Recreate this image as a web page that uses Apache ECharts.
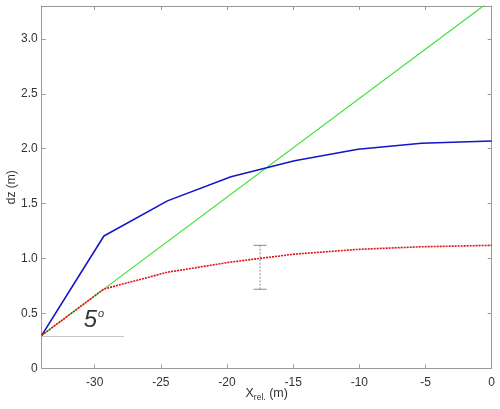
<!DOCTYPE html>
<html>
<head>
<meta charset="utf-8">
<script src="https://cdn.jsdelivr.net/npm/echarts@6/dist/echarts.min.js"></script>
<style>html,body{margin:0;padding:0;background:#fff}#c{width:500px;height:409px}</style>
</head>
<body>
<div id="c"></div>
<script>
// ---- data ----
const xPoints = [-34, -29.3, -24.5, -19.7, -14.9, -10.1, -5.3, 0];
const blueValues = [0.30, 1.205, 1.525, 1.745, 1.89, 1.995, 2.05, 2.07];
const redValues = [0.30, 0.722, 0.875, 0.968, 1.04, 1.083, 1.107, 1.12];
const greenX = [-34, 0];
const greenValues = [0.30, 3.357];
const refLineX = [-34, -27.8];
const refLineY = [0.29, 0.29];
const errX = [-17.5];
const errLow = [0.72];
const errHigh = [1.12];
const angleLabelPos = [-30.05, 0.435];
const xTickValues = [-30, -25, -20, -15, -10, -5, 0];
const yTickLabels = ['0', '0.5', '1.0', '1.5', '2.0', '2.5', '3.0'];

const pairs = (xs, ys) => xs.map((x, i) => [x, ys[i]]);

const axisCol = '#9a9a9a';
const textCol = '#333';
const font = 'Liberation Sans, Arial, sans-serif';

const chart = echarts.init(document.getElementById('c'), null, {renderer: 'canvas'});

const baseX = {
  type: 'value', min: -34, max: 0,
  axisLine: {show: true, onZero: false, lineStyle: {color: axisCol, width: 1}},
  axisTick: {show: true, inside: true, length: 4, customValues: xTickValues, lineStyle: {color: axisCol}},
  splitLine: {show: false}
};
const baseY = {
  type: 'value', min: 0, max: 3.3, interval: 0.5,
  axisLine: {show: true, onZero: false, lineStyle: {color: axisCol, width: 1}},
  axisTick: {show: true, inside: true, length: 4, lineStyle: {color: axisCol}},
  splitLine: {show: false}
};

chart.setOption({
  animation: false,
  backgroundColor: '#fff',
  grid: {left: 41.7, right: 8.3, top: 6, bottom: 40.7, containLabel: false, outerBoundsMode: 'none'},
  xAxis: [
    Object.assign({}, baseX, {
      position: 'bottom',
      axisLabel: {show: true, customValues: xTickValues, color: textCol, fontSize: 12, fontFamily: font, margin: 8,
        formatter: v => String(v)},
      name: '{x|X}{s|rel.}{x| (m)}',
      nameLocation: 'middle', nameGap: 16, nameMoveOverlap: false,
      nameTextStyle: {
        color: textCol, fontFamily: font,
        rich: {
          x: {fontSize: 12.5, color: textCol, fontFamily: font},
          s: {fontSize: 8.5, color: textCol, fontFamily: font, padding: [9, 0, 0, 0]}
        }
      }
    }),
    Object.assign({}, baseX, {position: 'top', axisLabel: {show: false}})
  ],
  yAxis: [
    Object.assign({}, baseY, {
      position: 'left',
      axisLabel: {show: true, color: textCol, fontSize: 12, fontFamily: font, margin: 4,
        formatter: v => yTickLabels[Math.round(v / 0.5)] || ''},
      name: 'dz (m)', nameLocation: 'middle', nameGap: 24, nameMoveOverlap: false,
      nameTextStyle: {color: textCol, fontSize: 12, fontFamily: font}
    }),
    Object.assign({}, baseY, {position: 'right', axisLabel: {show: false}})
  ],
  series: [
    {
      type: 'line', data: pairs(refLineX, refLineY), symbol: 'none',
      lineStyle: {color: '#c4c4c4', width: 1}, silent: true, z: 1
    },
    {
      type: 'line', data: pairs(greenX, greenValues), symbol: 'none', clip: true,
      lineStyle: {color: '#3be03b', width: 1.2}, z: 2
    },
    {
      type: 'line', data: pairs(xPoints, blueValues), symbol: 'none',
      lineStyle: {color: '#1515c8', width: 1.6}, z: 3
    },
    {
      type: 'line', data: pairs(xPoints, redValues), symbol: 'none',
      lineStyle: {color: '#e01010', width: 1.6, type: [2, 1]}, z: 4
    },
    {
      type: 'custom',
      data: errX.map((x, i) => [x, errLow[i], errHigh[i]]),
      renderItem: function (params, api) {
        const lo = api.coord([api.value(0), api.value(1)]);
        const hi = api.coord([api.value(0), api.value(2)]);
        const hw = 6.5;
        const st = {stroke: '#8a8a8a', lineWidth: 1};
        return {
          type: 'group',
          children: [
            {type: 'line', shape: {x1: lo[0], y1: lo[1], x2: hi[0], y2: hi[1]},
             style: Object.assign({lineDash: [2, 1.5]}, st)},
            {type: 'line', shape: {x1: lo[0] - hw, y1: lo[1], x2: lo[0] + hw, y2: lo[1]}, style: st},
            {type: 'line', shape: {x1: hi[0] - hw, y1: hi[1], x2: hi[0] + hw, y2: hi[1]}, style: st}
          ]
        };
      },
      z: 5
    },
    {
      type: 'scatter', data: [angleLabelPos], symbolSize: 0, silent: true,
      label: {
        show: true, position: 'inside',
        formatter: '{a|5}{b|o}',
        rich: {
          a: {fontSize: 24, fontStyle: 'italic', color: '#000', fontFamily: font},
          b: {fontSize: 11, fontStyle: 'italic', color: '#000', fontFamily: font, verticalAlign: 'top', padding: [0, 0, 12, 1]}
        }
      },
      z: 6
    }
  ]
});
</script>
</body>
</html>
